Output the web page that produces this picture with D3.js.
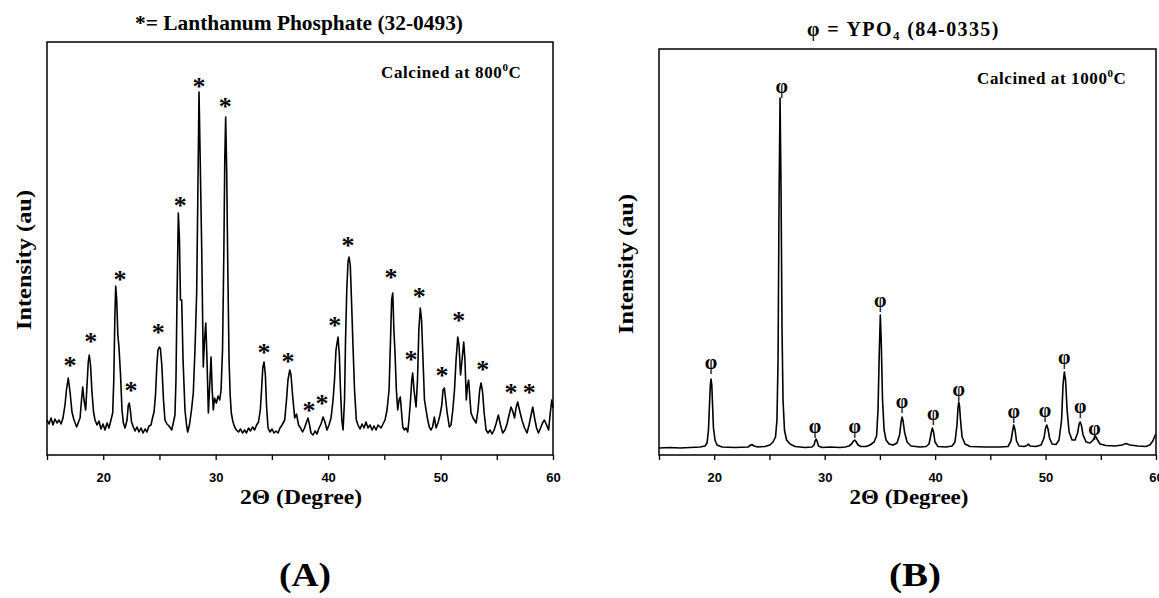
<!DOCTYPE html>
<html>
<head>
  <meta charset="utf-8">
  <title>XRD patterns - LaPO4 / YPO4</title>
  <script src="https://d3js.org/d3.v7.min.js"></script>
  <style>
    body { margin: 0; background: #fff; }
    .frame { fill: none; stroke: #000; stroke-width: 1.5px; }
    .trace { fill: none; stroke: #000; stroke-width: 1.6px; stroke-linejoin: round; }
    .serif { font-family: "Liberation Serif", Tinos, "Times New Roman", Times, "Nimbus Roman", FreeSerif, serif; font-weight: bold; fill: #000; }
    .tick text { font-family: "Liberation Sans", Arial, sans-serif; font-weight: bold; font-size: 13px; }
  </style>
</head>
<body>
  <svg width="1159" height="598"></svg>

  <script>
    // ---- panel A : calcined at 800 C (2theta, intensity a.u.) ----
    const aTheta = [15.00,15.18,15.36,15.53,15.71,15.89,16.07,16.25,16.42,16.60,16.73,16.89,17.05,17.22,17.40,17.64,17.80,17.94,18.07,18.18,
      18.29,18.44,18.56,18.67,18.76,18.87,19.00,19.14,19.27,19.45,19.62,19.80,19.98,20.16,20.34,20.51,20.69,20.84,20.94,21.03,
      21.11,21.20,21.30,21.40,21.54,21.67,21.79,21.94,22.12,22.23,22.32,22.43,22.52,22.68,22.83,23.00,23.18,23.36,23.54,23.72,
      23.89,24.07,24.25,24.38,24.52,24.65,24.77,24.87,24.99,25.09,25.21,25.36,25.49,25.67,25.85,26.09,26.25,26.38,26.47,26.56,
      26.68,26.78,26.87,26.98,27.10,27.27,27.41,27.51,27.67,27.85,28.01,28.16,28.31,28.41,28.52,28.61,28.76,28.90,29.01,29.12,
      29.23,29.35,29.45,29.59,29.69,29.79,29.90,30.06,30.21,30.36,30.48,30.61,30.73,30.81,30.89,30.98,31.07,31.19,31.29,31.39,
      31.54,31.69,31.84,32.03,32.21,32.39,32.57,32.74,32.92,33.10,33.28,33.46,33.64,33.81,33.97,34.08,34.19,34.30,34.42,34.52,
      34.66,34.83,35.01,35.19,35.37,35.55,35.72,35.90,36.14,36.30,36.43,36.59,36.70,36.84,37.03,37.19,37.37,37.55,37.73,37.90,
      38.08,38.21,38.35,38.48,38.66,38.84,39.01,39.19,39.37,39.55,39.72,39.90,40.08,40.26,40.44,40.57,40.70,40.88,41.00,41.10,
      41.22,41.33,41.46,41.55,41.66,41.77,41.86,41.97,42.08,42.21,42.35,42.51,42.66,42.84,43.02,43.19,43.37,43.55,43.73,43.91,
      44.08,44.26,44.44,44.71,44.88,45.06,45.24,45.42,45.55,45.65,45.75,45.85,45.95,46.07,46.19,46.31,46.42,46.53,46.64,46.79,
      46.93,47.08,47.19,47.33,47.44,47.52,47.64,47.82,47.95,48.07,48.20,48.31,48.44,48.57,48.71,48.86,49.00,49.15,49.29,49.45,
      49.60,49.77,49.95,50.11,50.22,50.34,50.44,50.58,50.78,50.93,51.09,51.24,51.38,51.53,51.64,51.78,51.91,52.06,52.17,52.29,
      52.40,52.50,52.62,52.71,52.89,53.16,53.33,53.48,53.60,53.74,53.87,54.05,54.22,54.40,54.58,54.76,54.93,55.14,55.33,55.53,
      55.73,55.91,56.09,56.27,56.44,56.58,56.71,56.86,57.02,57.24,57.47,57.69,57.87,58.05,58.20,58.36,58.54,58.71,58.89,59.07,
      59.23,59.43,59.61,59.74,59.89,60.00];
    const aCounts = [35,31,37,30,36,32,35,31,37,50,65,77,63,43,35,28,33,37,55,68,
      55,45,70,93,100,90,63,43,35,30,34,26,31,25,32,27,35,42,75,135,
      169,155,120,108,80,45,32,27,35,50,52,43,33,28,24,28,23,27,22,26,
      23,29,30,37,43,60,90,105,108,106,90,55,35,31,29,25,33,40,75,155,
      242,215,155,155,95,45,30,23,30,45,62,105,162,255,363,305,205,88,115,132,
      95,42,65,98,65,45,57,52,59,55,65,105,205,295,338,285,195,95,60,42,
      33,28,25,23,26,22,25,22,27,24,28,25,30,33,45,65,87,93,80,50,
      27,23,26,22,24,22,27,30,35,55,75,85,80,60,37,41,30,27,23,27,
      33,37,30,22,20,24,21,27,31,38,33,25,30,37,55,75,105,118,100,65,
      35,25,55,115,165,193,198,190,155,110,65,35,30,26,31,27,33,27,30,25,
      29,25,30,27,31,35,45,65,115,155,162,125,102,65,45,55,58,43,28,25,
      27,23,35,55,75,82,65,48,75,125,147,135,95,55,45,35,28,25,28,38,
      27,32,40,50,65,67,57,43,28,30,45,65,95,118,110,80,95,113,95,55,
      70,75,55,42,37,32,45,65,72,63,43,25,22,25,21,25,31,40,30,22,
      25,31,40,48,43,37,47,53,45,35,27,22,30,40,48,37,27,22,27,32,
      35,30,25,40,55,47];
    // asterisk marks (2theta, height of the mark)
    const aStarTheta = [17.05,18.89,21.49,22.47,24.90,26.86,28.52,30.86,34.30,36.43,38.30,39.46,40.59,41.77,45.59,47.37,48.11,50.13,51.61,53.75,56.27,57.89];
    const aStarLevel = [93,117,179,68,126,253,372,352,106,97,48,55,133,213,181,99,162,83,138,89,66,66];

    // ---- panel B : calcined at 1000 C ----
    const bTheta = [15.00,16.00,16.90,17.81,18.71,19.17,19.35,19.48,19.57,19.65,19.71,19.78,19.85,19.93,20.07,20.25,20.70,21.88,23.06,23.24,
      23.42,23.60,23.96,24.59,25.04,25.32,25.55,25.68,25.78,25.87,25.96,26.05,26.14,26.23,26.36,26.55,26.86,27.32,28.22,28.85,
      29.04,29.13,29.22,29.31,29.44,29.76,30.48,31.39,31.84,32.20,32.43,32.61,32.72,32.84,33.02,33.29,33.74,34.11,34.47,34.70,
      34.83,34.95,35.04,35.13,35.24,35.38,35.56,35.83,36.19,36.55,36.78,36.92,37.01,37.10,37.23,37.46,37.82,38.63,39.18,39.45,
      39.63,39.75,39.86,39.99,40.26,40.99,41.53,41.80,41.98,42.07,42.14,42.21,42.30,42.44,42.71,43.16,44.52,45.88,46.60,46.87,
      47.03,47.12,47.24,47.37,47.60,48.05,48.32,48.44,48.59,49.14,49.59,49.86,50.00,50.11,50.22,50.36,50.59,50.95,51.22,51.45,
      51.58,51.70,51.81,51.95,52.13,52.40,52.67,52.90,53.04,53.13,53.24,53.40,53.67,54.03,54.31,54.51,54.71,54.93,55.47,56.29,
      56.92,57.28,57.64,58.36,59.08,59.44,59.71,59.98];
    const bCounts = [7,7.5,7,7.5,8,9,12,25,50,70,76,70,50,27,15,10,8,7.5,8,9.5,
      10.5,9,8,8.5,10,13,18,35,95,255,357,265,125,55,25,15,11,8.5,7.5,8,
      10,14,16,14,9,7.5,8,7.5,8,9,11,14,15,13.5,10,8.5,8.5,10,13,19,
      45,105,140,110,55,25,15,11,10,12,20,33,38,34,23,13,9,8,8.5,11,
      21,27,23,13,8.5,8,9,13,30,47,53,49,35,18,11,8.5,8,8,8.5,14,
      25,30,25,14,9,8.5,9.5,11,9,8.5,10,17,27,30,26,17,11,10.5,15,35,
      70,83,75,45,23,15,15,22,31,33,30,20,13,12,15,19,15,11,9.5,9,
      10,11.5,10,9,8.5,10,14,21];
    const bPhiTheta = [19.71,26.11,29.13,32.72,35.04,37.01,39.82,42.14,47.12,49.95,51.70,53.13,54.42];
    const bPhiLevel = [92,368,28,28,154,53,41,65,43,44,97,48,26];

    const xTicks = [15, 20, 25, 30, 35, 40, 45, 50, 55, 60];
    const xTickLabels = [20, 30, 40, 50, 60];

    const svg = d3.select("svg");

    function drawPanel(p) {
      const x = d3.scaleLinear().domain([15, 60]).range([p.left, p.right]);
      const y = d3.scaleLinear().domain([0, p.bottom - p.top]).range([p.bottom, p.top]);
      const g = svg.append("g");

      // bottom axis, ticks hang below the frame
      const axis = d3.axisBottom(x)
        .tickValues(xTicks)
        .tickSize(5)
        .tickSizeOuter(0)
        .tickFormat(d => xTickLabels.includes(d) ? d : "");
      const ax = g.append("g")
        .attr("transform", `translate(0,${p.bottom})`)
        .call(axis);
      ax.select(".domain").remove();
      ax.selectAll(".tick line").attr("stroke", "#000").attr("stroke-width", 1.3);
      ax.selectAll(".tick text").attr("dy", "1.45em").attr("fill", "#000");

      g.append("rect").attr("class", "frame")
        .attr("x", p.left).attr("y", p.top)
        .attr("width", p.right - p.left).attr("height", p.bottom - p.top);

      const line = d3.line().x(d => x(d[0])).y(d => y(d[1]));
      g.append("path").attr("class", "trace")
        .attr("stroke-width", p.lw)
        .attr("d", line(d3.zip(p.theta, p.counts)));

      g.selectAll("text.mark")
        .data(d3.zip(p.markTheta, p.markLevel))
        .enter().append("text")
        .attr("class", "serif mark")
        .attr("text-anchor", "middle")
        .attr("font-size", p.markSize)
        .attr("font-weight", "normal")
        .attr("x", d => x(d[0]))
        .attr("y", d => y(d[1]) + p.markDy)
        .text(p.mark);

      // axis titles
      g.append("text").attr("class", "serif")
        .attr("font-size", 22)
        .attr("text-anchor", "middle")
        .attr("x", p.xLabelX).attr("y", 504)
        .attr("textLength", p.xLabelW).attr("lengthAdjust", "spacingAndGlyphs")
        .text("2\u0398 (Degree)");

      g.append("text").attr("class", "serif")
        .attr("font-size", 22)
        .attr("text-anchor", "middle")
        .attr("transform", `translate(${p.yLabelX},${p.yLabelY}) rotate(-90)`)
        .attr("textLength", 140).attr("lengthAdjust", "spacingAndGlyphs")
        .text("Intensity (au)");

      g.append("text").attr("class", "serif")
        .attr("font-size", 34)
        .attr("text-anchor", "middle")
        .attr("x", p.tagX).attr("y", 586)
        .attr("textLength", 52).attr("lengthAdjust", "spacingAndGlyphs")
        .text(p.tag);

      const calc = g.append("text").attr("class", "serif")
        .attr("font-size", 17)
        .attr("letter-spacing", 0.6)
        .attr("x", p.calcX).attr("y", p.calcY);
      calc.append("tspan").text("Calcined at " + p.temp);
      calc.append("tspan").attr("font-size", 11).attr("dy", -7).text("0");
      calc.append("tspan").attr("dy", 7).text("C");

      return g;
    }

    drawPanel({
      left: 47, right: 553, top: 42, bottom: 455, lw: 1.8,
      theta: aTheta, counts: aCounts,
      markTheta: aStarTheta, markLevel: aStarLevel, mark: "*", markSize: 26, markDy: 12,
      xLabelX: 301, xLabelW: 122, yLabelX: 31, yLabelY: 260,
      tag: "(A)", tagX: 305, temp: "800", calcX: 381, calcY: 78
    });

    drawPanel({
      left: 659, right: 1156, top: 49, bottom: 455, lw: 1.5,
      theta: bTheta, counts: bCounts,
      markTheta: bPhiTheta, markLevel: bPhiLevel, mark: "\u03C6", markSize: 20, markDy: 6,
      xLabelX: 909, xLabelW: 119, yLabelX: 633, yLabelY: 264,
      tag: "(B)", tagX: 915, temp: "1000", calcX: 977, calcY: 84
    });

    // panel titles
    svg.append("text").attr("class", "serif")
      .attr("font-size", 20).attr("text-anchor", "middle")
      .attr("x", 299).attr("y", 30)
      .attr("textLength", 328).attr("lengthAdjust", "spacingAndGlyphs")
      .text("*= Lanthanum Phosphate (32-0493)");

    const tB = svg.append("text").attr("class", "serif")
      .attr("font-size", 20)
      .attr("letter-spacing", 1.4)
      .attr("x", 807).attr("y", 36);
    tB.append("tspan").text("\u03C6 = YPO");
    tB.append("tspan").attr("font-size", 13).attr("dy", 4).text("4");
    tB.append("tspan").attr("dy", -4).text(" (84-0335)");
  </script>
</body>
</html>
